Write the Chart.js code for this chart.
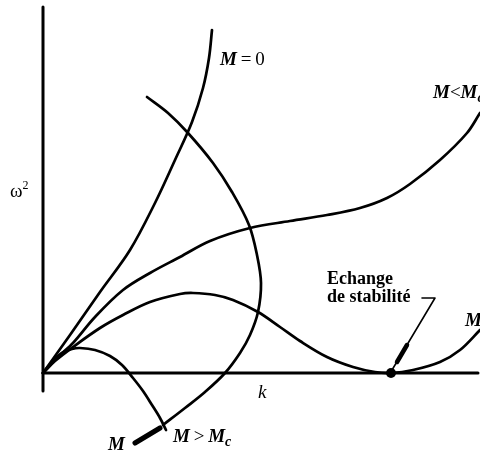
<!DOCTYPE html>
<html>
<head>
<meta charset="utf-8">
<script src="https://cdn.jsdelivr.net/npm/chart.js@4.4.0/dist/chart.umd.min.js"></script>
<style>
    html, body { margin: 0; padding: 0; background: #fff; }
    #wrap { width: 480px; height: 454px; position: relative; }
</style>
</head>
<body>
<div id="wrap"><canvas id="dispersion"></canvas></div>
<script>
// k (horizontal) and omega^2 (vertical), arbitrary units
var kRange = [-1.075, 10.925];
var wRange = [-2.025, 9.325];

var axisK = [[0, 0], [10.875, 0]];
var axisW = [[0, 9.15], [0, -0.45]];

var curveM0 = [[0, 0], [0.675, 0.95], [1.425, 2.025], [2.175, 3.075], [2.8, 4.25], [3.3, 5.325],
    [3.725, 6.275], [4.0, 7.125], [4.15, 7.875], [4.225, 8.575]];

var curveMless = [[0, 0], [0.375, 0.4], [0.75, 0.75], [1.3, 1.4], [2.0, 2.075], [2.675, 2.5],
    [3.425, 2.9], [4.175, 3.3], [5.175, 3.625], [6.175, 3.8], [7.1, 3.95], [7.925, 4.125],
    [8.6, 4.375], [9.175, 4.725], [9.925, 5.325], [10.6, 6.0], [10.925, 6.5]];

var curveMc = [[0, 0], [0.3, 0.3], [0.75, 0.65], [1.425, 1.125], [2.0, 1.45], [2.675, 1.775],
    [3.425, 1.975], [3.75, 2.0], [4.3, 1.95], [4.75, 1.825], [5.375, 1.525], [5.925, 1.15],
    [6.425, 0.8], [7.1, 0.4], [7.75, 0.15], [8.3, 0.025], [8.7, 0], [9.25, 0.075],
    [9.925, 0.275], [10.425, 0.575], [10.925, 1.075]];

var curveM = [[0, 0], [0.225, 0.275], [0.475, 0.5], [0.725, 0.6], [0.925, 0.625], [1.3, 0.575],
    [1.675, 0.425], [1.975, 0.2], [2.25, -0.125], [2.5, -0.45], [2.725, -0.8], [2.925, -1.125],
    [3.075, -1.425]];

var curveMgreater = [[2.6, 6.9], [3.125, 6.5], [3.625, 6.0], [4.25, 5.25], [4.725, 4.525],
    [5.15, 3.7], [5.35, 2.95], [5.45, 2.25], [5.375, 1.525], [5.175, 0.95], [4.925, 0.5],
    [4.55, 0], [4.05, -0.475], [3.55, -0.875], [3.0, -1.3]];
var arrowMgreater = [[2.925, -1.375], [2.3, -1.75]];

// point of exchange of stability and its leader line
var exchangePoint = [[8.7, 0]];
var leaderLine = [[9.475, 1.875], [9.8, 1.875], [8.725, 0.075]];
var leaderArrow = [[9.1, 0.7], [8.85, 0.275]];

// text, anchored in data units (left edge, baseline)
var textLabels = [
    { at: [4.425, 7.7], runs: [['M', 'bi'], ['\u2009=\u20090', 'r']] },
    { at: [9.75, 6.875], runs: [['M', 'bi'], ['<', 'r'], ['M', 'bi'], ['c', 'sub']] },
    { at: [10.55, 1.175], runs: [['M', 'bi'], ['c', 'sub']] },
    { at: [3.25, -1.725], runs: [['M', 'bi'], ['\u2009>\u2009', 'r'], ['M', 'bi'], ['c', 'sub']] },
    { at: [1.625, -1.925], runs: [['M', 'bi']] },
    { at: [5.375, -0.625], runs: [['k', 'i']] },
    { at: [-0.825, 4.4], runs: [['\u03c9', 'w'], ['2', 'sup']] },
    { at: [7.1, 2.225], runs: [['Echange', 'b']] },
    { at: [7.1, 1.775], runs: [['de stabilit\u00e9', 'b']] }
];

var fonts = {
    bi: ['italic bold 19px "Liberation Serif"', 0],
    i: ['italic 19px "Liberation Serif"', 0],
    r: ['19px "Liberation Serif"', 0],
    w: ['19px "Liberation Serif"', 0],
    b: ['bold 18px "Liberation Serif"', 0],
    sub: ['italic bold 14px "Liberation Serif"', 4],
    sup: ['12px "Liberation Serif"', -8]
};

function toXY(list) {
    return list.map(function (p) { return { x: p[0], y: p[1] }; });
}

function line(list, width, tension) {
    return {
        data: toXY(list),
        showLine: true,
        borderColor: '#000',
        backgroundColor: '#000',
        borderWidth: width,
        borderCapStyle: 'round',
        borderJoinStyle: 'round',
        pointRadius: 0,
        tension: tension,
        fill: false
    };
}

var textPlugin = {
    id: 'figureText',
    afterDatasetsDraw: function (chart) {
        var ctx = chart.ctx;
        var xs = chart.scales.x, ys = chart.scales.y;
        ctx.save();
        ctx.fillStyle = '#000';
        ctx.textBaseline = 'alphabetic';
        textLabels.forEach(function (lab) {
            var x = xs.getPixelForValue(lab.at[0]);
            var y = ys.getPixelForValue(lab.at[1]);
            lab.runs.forEach(function (run) {
                var f = fonts[run[1]];
                ctx.font = f[0];
                ctx.fillText(run[0], x, y + f[1]);
                x += ctx.measureText(run[0]).width;
            });
        });
        ctx.restore();
    }
};

var dot = line(exchangePoint, 0, 0);
dot.showLine = false;
dot.pointRadius = 5;
dot.pointBackgroundColor = '#000';

var chart = new Chart(document.getElementById('dispersion').getContext('2d'), {
    type: 'scatter',
    data: {
        datasets: [
            line(axisK, 3, 0),
            line(axisW, 3, 0),
            line(curveM0, 2.7, 0.35),
            line(curveMless, 2.7, 0.35),
            line(curveMc, 2.7, 0.35),
            line(curveM, 2.7, 0.35),
            line(curveMgreater, 2.7, 0.35),
            line(arrowMgreater, 5, 0),
            line(leaderLine, 1.6, 0),
            line(leaderArrow, 4.5, 0),
            dot
        ]
    },
    options: {
        responsive: true,
        maintainAspectRatio: false,
        animation: false,
        layout: { padding: 0, autoPadding: false },
        plugins: { legend: { display: false }, tooltip: { enabled: false } },
        scales: {
            x: { type: 'linear', display: false, min: kRange[0], max: kRange[1] },
            y: { type: 'linear', display: false, min: wRange[0], max: wRange[1] }
        }
    },
    plugins: [textPlugin]
});
</script>
</body>
</html>
